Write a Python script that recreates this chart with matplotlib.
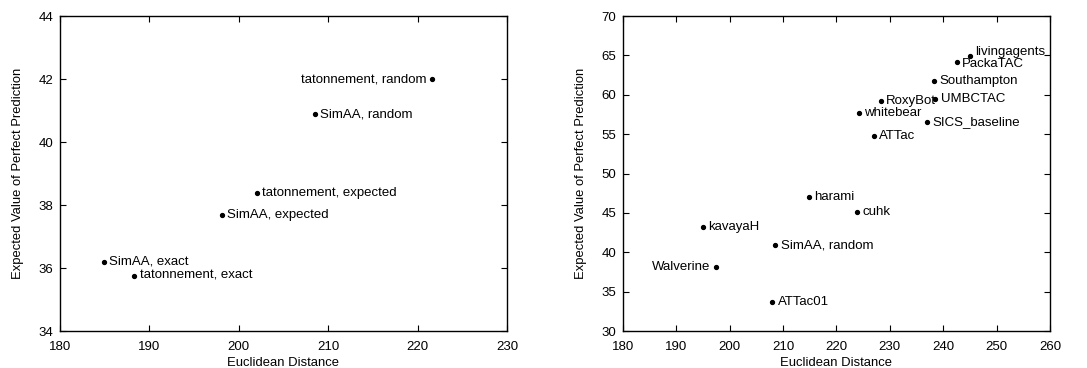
import matplotlib.pyplot as plt

plt.rcParams['font.family'] = ['Liberation Sans', 'DejaVu Sans']

# left panel: SimAA / tatonnement variants
left_names = ['tatonnement, random', 'SimAA, random', 'tatonnement, expected',
              'SimAA, expected', 'SimAA, exact', 'tatonnement, exact']
left_dist = [221.6, 208.5, 202.0, 198.1, 184.9, 188.3]
left_evpp = [42.0, 40.88, 38.37, 37.67, 36.2, 35.76]
left_side = ['l', 'r', 'r', 'r', 'r', 'r']

# right panel: TAC agents
right_names = ['livingagents', 'PackaTAC', 'Southampton', 'UMBCTAC', 'RoxyBot',
               'whitebear', 'SICS_baseline', 'ATTac', 'harami', 'cuhk',
               'kavayaH', 'SimAA, random', 'Walverine', 'ATTac01']
right_dist = [245.0, 242.5, 238.3, 238.5, 228.3, 224.2, 236.9, 227.0,
              214.8, 223.9, 195.0, 208.5, 197.35, 208.0]
right_evpp = [64.9, 64.2, 61.75, 59.47, 59.26, 57.74, 56.51, 54.78,
              47.04, 45.1, 43.2, 40.87, 38.08, 33.64]
right_side = ['r', 'r', 'r', 'r', 'r', 'r', 'r', 'r', 'r', 'r', 'r', 'r', 'l', 'r']
# small vertical nudges (points) so crowded labels do not collide
right_dy = {'livingagents': 3, 'PackaTAC': -2}

fig = plt.figure(figsize=(10.87, 3.68), dpi=100)
ax1 = fig.add_axes([0.0552, 0.1005, 0.4112, 0.856])
ax2 = fig.add_axes([0.5731, 0.1005, 0.3928, 0.856])


def draw(ax, names, xs, ys, sides, dy=None):
    dy = dy or {}
    ax.plot(xs, ys, 'o', color='black', markersize=2.8, linestyle='none')
    for n, x, y, s in zip(names, xs, ys, sides):
        off = (4, dy.get(n, 0)) if s == 'r' else (-4, dy.get(n, 0))
        ax.annotate(n, (x, y), xytext=off, textcoords='offset points',
                    ha='left' if s == 'r' else 'right', va='center', fontsize=9.5)
    ax.tick_params(direction='in', top=True, right=True, length=4, labelsize=9.5)
    ax.tick_params(axis='x', pad=7)
    ax.tick_params(axis='y', pad=5)
    ax.set_xlabel('Euclidean Distance', fontsize=9.4, labelpad=3)
    ax.set_ylabel('Expected Value of Perfect Prediction', fontsize=9.4, labelpad=10)
    for sp in ax.spines.values():
        sp.set_linewidth(1.0)


draw(ax1, left_names, left_dist, left_evpp, left_side)
ax1.set_xlim(180, 230)
ax1.set_ylim(34, 44)
ax1.set_xticks(range(180, 231, 10))
ax1.set_yticks(range(34, 45, 2))

draw(ax2, right_names, right_dist, right_evpp, right_side, right_dy)
ax2.set_xlim(180, 260)
ax2.set_ylim(30, 70)
ax2.set_xticks(range(180, 261, 10))
ax2.set_yticks(range(30, 71, 5))

fig.savefig('out.png', dpi=100)
